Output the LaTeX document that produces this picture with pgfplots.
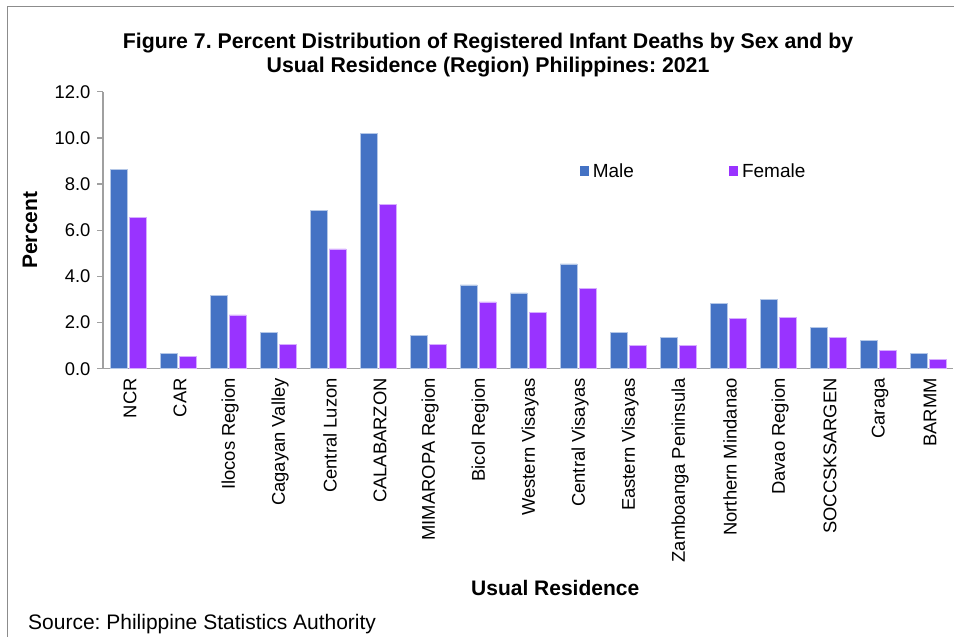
\documentclass[border=0pt]{standalone}
\usepackage{fontspec}
\setmainfont{Liberation Sans}
\usepackage{pgfplots}
\usepackage{pgfplotstable}
\pgfplotsset{compat=1.18}
\frenchspacing

\definecolor{male}{HTML}{4472C4}
\definecolor{female}{HTML}{9933FF}
\definecolor{axisgray}{HTML}{A0A0A0}
\definecolor{framegray}{HTML}{8C8C8C}

% Percent of registered infant deaths, by region of usual residence
\pgfplotstableread{
idx male female
0  8.62 6.57
1  0.68 0.52
2  3.16 2.33
3  1.57 1.05
4  6.86 5.19
5  10.21 7.11
6  1.46 1.07
7  3.63 2.89
8  3.28 2.44
9  4.54 3.48
10 1.58 1.01
11 1.36 1.01
12 2.82 2.18
13 3.01 2.23
14 1.78 1.34
15 1.23 0.81
16 0.67 0.41
}\deaths

\begin{document}
\begin{tikzpicture}
\useasboundingbox (0pt,0pt) rectangle (954pt,-637pt);
\fill[white] (0pt,0pt) rectangle (954pt,-637pt);
\draw[framegray, line width=1pt] (7.5pt,-637pt) -- (7.5pt,-6pt) -- (954pt,-6pt);

\begin{axis}[
  at={(103pt,-368.7pt)}, anchor=south west,
  scale only axis, width=850pt, height=277pt,
  ybar, bar width=0.34,
  xmin=-0.5, xmax=16.5, ymin=0, ymax=12,
  xtick=data,
  xticklabels={NCR, CAR, Ilocos Region, Cagayan Valley, Central Luzon,
    CALABARZON, MIMAROPA Region, Bicol Region, Western Visayas,
    Central Visayas, Eastern Visayas, Zamboanga Peninsula,
    Northern Mindanao, Davao Region, SOCCSKSARGEN, Caraga, BARMM},
  ytick={0,2,...,12},
  axis lines*=left,
  axis line style={-, axisgray, line width=1.3pt},
  tick align=outside,
  major tick length=6pt,
  xtick style={draw=none},
  ytick style={axisgray, line width=1.3pt},
  /pgf/number format/.cd, fixed, fixed zerofill, precision=1, assume math mode=true,
  /pgfplots/.cd,
  yticklabel style={font=\fontsize{18.4}{22}\selectfont, text=black, xshift=-3pt},
  xticklabel style={rotate=90, anchor=east, font=\fontsize{18.4}{22}\selectfont, text=black, yshift=-2pt},
  title={Figure 7. Percent Distribution of Registered Infant Deaths by Sex and by\\Usual Residence (Region) Philippines: 2021},
  title style={at={(0.453,1.111)}, anchor=center, align=center,
    font=\bfseries\fontsize{21.3}{23.5}\selectfont},
  xlabel={Usual Residence},
  xlabel style={at={(0.532,-0.792)}, anchor=center, font=\bfseries\fontsize{21}{25}\selectfont},
  ylabel={Percent},
  ylabel style={at={(-0.0859,0.5)}, anchor=center, font=\bfseries\fontsize{21}{25}\selectfont},
  legend columns=2,
  legend style={draw=none, fill=none, at={(0.557,0.714)}, anchor=west,
    font=\fontsize{19}{23}\selectfont,
    /tikz/every even column/.append style={column sep=93pt}},
]
\addplot[fill=male, draw=male!40!white, line width=0.6pt, bar shift=-0.19,
  legend image code/.code={\fill[male] (0pt,-4pt) rectangle (8.5pt,4.5pt); \path (10.5pt,0pt);}]
  table[x=idx, y=male] {\deaths};
\addplot[fill=female, draw=female!40!white, line width=0.6pt, bar shift=0.19,
  legend image code/.code={\fill[female] (0pt,-4pt) rectangle (8.5pt,4.5pt); \path (10.5pt,0pt);}]
  table[x=idx, y=female] {\deaths};
\legend{Male, Female}
\end{axis}

\node[anchor=west, inner sep=0pt, font=\fontsize{21}{25}\selectfont] at (28pt,-624pt)
  {Source: Philippine Statistics Authority};
\end{tikzpicture}
\end{document}
